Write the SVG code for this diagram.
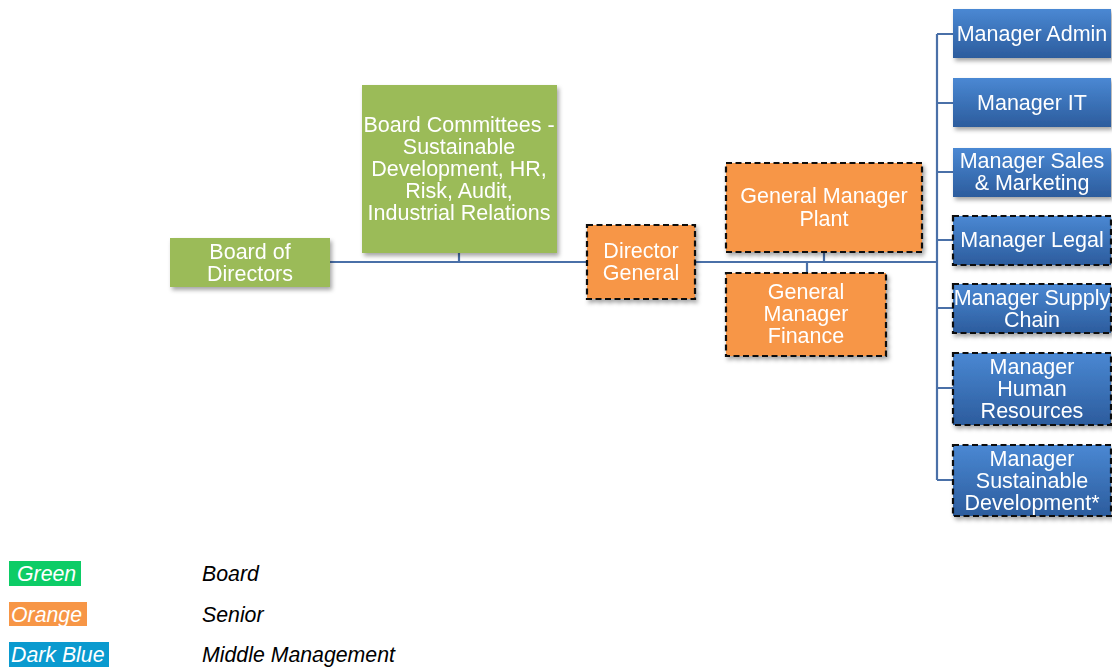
<svg xmlns="http://www.w3.org/2000/svg" width="1112" height="668" viewBox="0 0 1112 668">
<style>
text{font-family:"Liberation Sans",Arial,sans-serif;font-size:21.5px;fill:#fff;text-anchor:middle}
.g{fill:#9bbb59}
.o{fill:#f79646}
.b{fill:url(#bl)}
.d{stroke:#111;stroke-width:2.2;stroke-dasharray:6 3.5}
.c{stroke:#4a70a8;stroke-width:2.2;fill:none}
.lg{font-style:italic;text-anchor:start;font-size:21.3px}
.lk{fill:#000}
</style>
<defs>
<linearGradient id="bl" x1="0" y1="0" x2="0" y2="1">
<stop offset="0" stop-color="#4a88d3"/>
<stop offset="1" stop-color="#2c5c9d"/>
</linearGradient>
<filter id="sh" x="-10%" y="-10%" width="130%" height="140%">
<feDropShadow dx="2" dy="3" stdDeviation="2" flood-color="#000" flood-opacity="0.35"/>
</filter>
</defs>
<g id="connectors">
<path class="c" d="M330 262H587M459 253V262M695 262H937M824 252V262M807 262V273M937 34V480M937 34H953M937 103H953M937 172H953M937 240H953M937 308H953M937 388H953M937 480H953"/>
</g>
<g id="board" filter="url(#sh)"><rect class="g" x="170" y="238" width="160" height="49"/><text x="250" y="259">Board of</text><text x="250" y="281">Directors</text></g>
<g id="committees" filter="url(#sh)"><rect class="g" x="362" y="85" width="195" height="168"/><text x="459" y="132">Board Committees -</text><text x="459" y="154">Sustainable</text><text x="459" y="176">Development, HR,</text><text x="459" y="198">Risk, Audit,</text><text x="459" y="220">Industrial Relations</text></g>
<g id="dg" filter="url(#sh)"><rect class="o d" x="587" y="225" width="108" height="74"/><text x="641" y="258">Director</text><text x="641" y="280">General</text></g>
<g id="gmplant" filter="url(#sh)"><rect class="o d" x="726" y="163" width="196" height="89"/><text x="824" y="203">General Manager</text><text x="824" y="226">Plant</text></g>
<g id="gmfinance" filter="url(#sh)"><rect class="o d" x="726" y="273" width="160" height="83"/><text x="806" y="299">General</text><text x="806" y="321">Manager</text><text x="806" y="343">Finance</text></g>
<g id="admin" filter="url(#sh)"><rect class="b" x="953" y="9" width="158" height="49"/><text x="1032" y="41">Manager Admin</text></g>
<g id="it" filter="url(#sh)"><rect class="b" x="953" y="78" width="158" height="49"/><text x="1032" y="110">Manager IT</text></g>
<g id="sales" filter="url(#sh)"><rect class="b" x="953" y="148" width="158" height="49"/><text x="1032" y="168">Manager Sales</text><text x="1032" y="190">&amp; Marketing</text></g>
<g id="legal" filter="url(#sh)"><rect class="b d" x="953" y="216" width="158" height="49"/><text x="1032" y="247">Manager Legal</text></g>
<g id="supply" filter="url(#sh)"><rect class="b d" x="953" y="284" width="158" height="49"/><text x="1032" y="305">Manager Supply</text><text x="1032" y="327">Chain</text></g>
<g id="hr" filter="url(#sh)"><rect class="b d" x="953" y="353" width="158" height="72"/><text x="1032" y="374">Manager</text><text x="1032" y="396">Human</text><text x="1032" y="418">Resources</text></g>
<g id="sustdev" filter="url(#sh)"><rect class="b d" x="953" y="445" width="158" height="71"/><text x="1032" y="466">Manager</text><text x="1032" y="488">Sustainable</text><text x="1032" y="510">Development*</text></g>
<g id="legend">
<rect x="9" y="561" width="72" height="25" fill="#0ccc66"/><text class="lg" x="17" y="581">Green</text>
<rect x="9" y="602" width="78" height="24" fill="#f79646"/><text class="lg" x="11" y="622">Orange</text>
<rect x="9" y="642" width="100" height="25" fill="#0a9acf"/><text class="lg" x="11" y="662">Dark Blue</text>
<text class="lg lk" x="202" y="581">Board</text>
<text class="lg lk" x="202" y="622">Senior</text>
<text class="lg lk" x="202" y="662">Middle Management</text>
</g>
</svg>
